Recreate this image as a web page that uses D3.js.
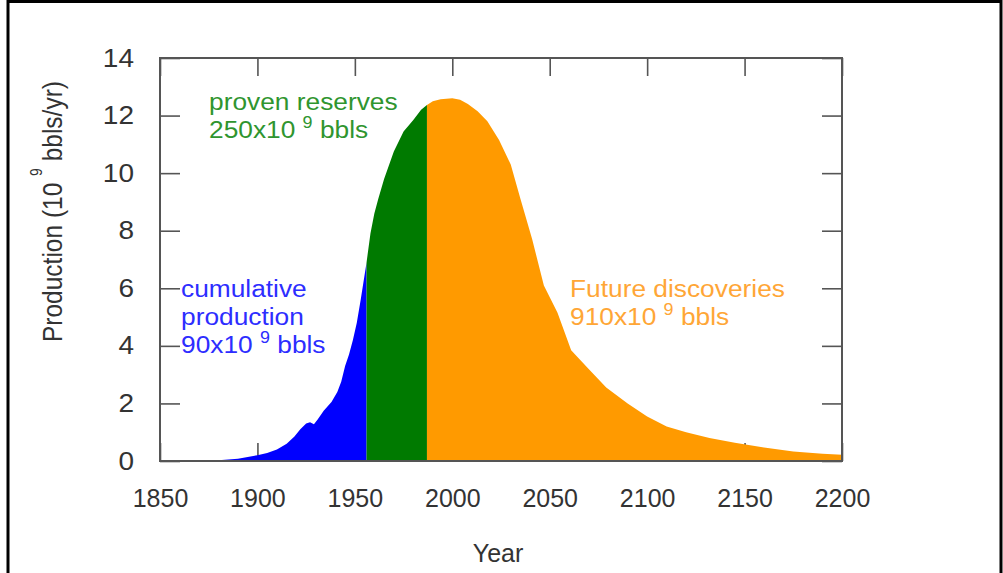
<!DOCTYPE html>
<html>
<head>
<meta charset="utf-8">
<script src="https://cdn.jsdelivr.net/npm/d3@7"></script>
<style>
  body { margin: 0; background: #fff; }
  text { font-family: "Liberation Sans", Arial, sans-serif; }
</style>
</head>
<body>
<div id="chart"></div>
<script>
// data (10^9 bbls per year)
const years = [1850, 1860, 1870, 1880, 1890, 1900, 1905, 1910, 1915, 1919, 1922, 1925, 1927, 1929,
  1931, 1934, 1938, 1941, 1943, 1945, 1947, 1949, 1951, 1953, 1956,
  1958, 1960, 1962, 1965, 1970, 1975, 1980, 1984, 1987,
  1990, 1994, 2000, 2004, 2008, 2013, 2018, 2024, 2030, 2035, 2041, 2047, 2054, 2061,
  2070, 2079, 2090, 2100, 2110, 2120, 2132, 2145, 2160, 2175, 2190, 2200];
const production = [0, 0, 0.005, 0.03, 0.08, 0.2, 0.28, 0.4, 0.6, 0.85, 1.1, 1.3, 1.35, 1.28,
  1.45, 1.75, 2.05, 2.4, 2.75, 3.3, 3.7, 4.2, 4.8, 5.6, 6.9,
  7.9, 8.6, 9.1, 9.8, 10.75, 11.45, 11.85, 12.2, 12.37,
  12.5, 12.57, 12.6, 12.55, 12.4, 12.15, 11.8, 11.15, 10.3, 9.1, 7.7, 6.1, 5.15, 3.85,
  3.2, 2.55, 2.0, 1.55, 1.2, 1.0, 0.8, 0.63, 0.47, 0.33, 0.25, 0.22];

const provenStart = 1956;
const futureStart = 1987;

const xTicks = [1850, 1900, 1950, 2000, 2050, 2100, 2150, 2200];
const yTicks = [0, 2, 4, 6, 8, 10, 12, 14];

function chart() {
  const width = 1003, height = 573;
  const plot = {left: 160, right: 842, top: 58, bottom: 461};
  const sx = 1.12; // picture is a bit stretched sideways
  const axisColor = '#555';

  const data = years.map((yr, i) => ({year: yr, value: production[i]}));

  const x = d3.scaleLinear().domain([1850, 2200]).range([plot.left, plot.right]);
  const y = d3.scaleLinear().domain([0, 14]).range([plot.bottom, plot.top]);

  const svg = d3.select('#chart').append('svg')
      .attr('width', width)
      .attr('height', height);

  // outer frame
  svg.append('path')
      .attr('d', `M8,${height + 5}V1.5H1001V${height + 5}`)
      .attr('fill', 'none')
      .attr('stroke', '#000')
      .attr('stroke-width', 3);

  // ticks, pointing inward on all four sides
  const styleAxis = g => {
    g.select('.domain').remove();
    g.selectAll('.tick line').attr('stroke', axisColor).attr('stroke-width', 1.6);
    g.selectAll('.tick text')
      .attr('fill', '#333')
      .style('font-size', '25px');
  };

  svg.append('g')
      .attr('transform', `translate(0, ${plot.bottom})`)
      .call(d3.axisBottom(x).tickValues(xTicks).tickSize(-18).tickPadding(28).tickFormat(d3.format('d')))
      .call(styleAxis);

  svg.append('g')
      .attr('transform', `translate(0, ${plot.top})`)
      .call(d3.axisTop(x).tickValues(xTicks).tickSize(-18).tickFormat(''))
      .call(styleAxis);

  svg.append('g')
      .attr('transform', `translate(${plot.left}, 0)`)
      .call(d3.axisLeft(y).tickValues(yTicks).tickSize(-20).tickPadding(26 / sx))
      .call(styleAxis)
      .call(g => g.selectAll('.tick text').attr('transform', `scale(${sx},1)`));

  svg.append('g')
      .attr('transform', `translate(${plot.right}, 0)`)
      .call(d3.axisRight(y).tickValues(yTicks).tickSize(-20).tickFormat(''))
      .call(styleAxis);

  // the three filled parts of the curve
  const area = d3.area()
      .x(d => x(d.year))
      .y0(y(0))
      .y1(d => y(d.value));

  const parts = [
    {rows: data.filter(d => d.year <= provenStart), color: '#0000ff'},
    {rows: data.filter(d => d.year >= provenStart && d.year <= futureStart), color: '#007a00'},
    {rows: data.filter(d => d.year >= futureStart), color: '#ff9a00'}
  ];

  svg.append('g')
    .selectAll('path')
    .data(parts)
    .join('path')
      .attr('d', d => area(d.rows))
      .attr('fill', d => d.color);

  // plot border
  svg.append('rect')
      .attr('x', plot.left)
      .attr('y', plot.top)
      .attr('width', plot.right - plot.left)
      .attr('height', plot.bottom - plot.top)
      .attr('fill', 'none')
      .attr('stroke', axisColor)
      .attr('stroke-width', 2);

  // axis titles
  const ylab = svg.append('text')
      .attr('transform', `translate(62, 342) rotate(-90) scale(1,${sx})`)
      .attr('fill', '#333')
      .style('font-size', '24.5px');
  ylab.append('tspan').text('Production (10 ');
  ylab.append('tspan').attr('dy', -18).style('font-size', '14px').text('9');
  ylab.append('tspan').attr('dy', 18).text(' bbls/yr)');

  svg.append('text')
      .attr('transform', `translate(${(plot.left + plot.right) / 2 - 3}, 562)`)
      .attr('text-anchor', 'middle')
      .attr('fill', '#333')
      .style('font-size', '25px')
      .text('Year');

  // annotations
  function note(px, py, color, first, amount) {
    const g = svg.append('g').attr('fill', color).style('font-size', '23.5px');
    first.forEach((line, i) => {
      g.append('text')
        .attr('transform', `translate(${px}, ${py + i * 28}) scale(${sx},1)`)
        .text(line);
    });
    const t = g.append('text')
        .attr('transform', `translate(${px}, ${py + first.length * 28}) scale(${sx},1)`);
    t.append('tspan').text(amount + 'x10 ');
    t.append('tspan').attr('dy', -10).style('font-size', '16px').text('9');
    t.append('tspan').attr('dy', 10).text(' bbls');
  }

  note(209, 110, '#2f952f', ['proven reserves'], 250);
  note(181, 297, '#2d2dff', ['cumulative', 'production'], 90);
  note(570, 297, '#ffa636', ['Future discoveries'], 910);
}

window.onload = chart;
</script>
</body>
</html>
